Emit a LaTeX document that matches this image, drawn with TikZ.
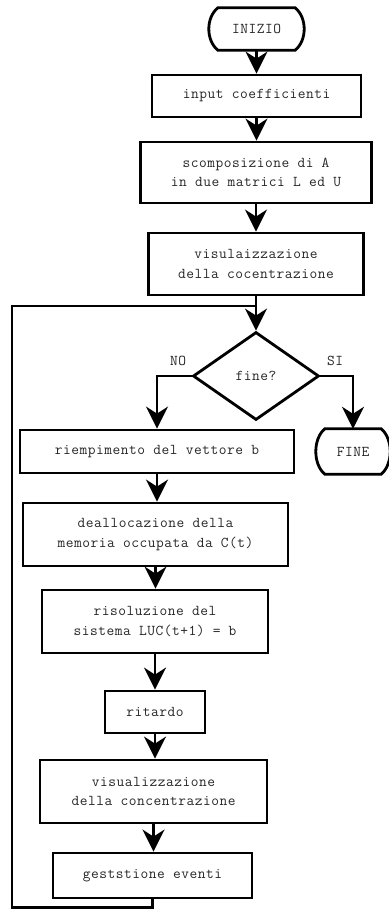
\documentclass[tikz,border=0pt]{standalone}
\usepackage{fontspec}
\newfontfamily\cour{Latin Modern Mono}[LetterSpace=3.5]
\usetikzlibrary{arrows.meta,shapes.geometric,calc}
\newcommand\drawterm[1]{%
  \draw[conn] ($(#1.north west)+(10,0)$) -- ($(#1.north east)+(-10,0)$)
    .. controls ($(#1.north east)+(2,10)$) and ($(#1.south east)+(2,-10)$) .. ($(#1.south east)+(-10,0)$)
    -- ($(#1.south west)+(10,0)$)
    .. controls ($(#1.south west)+(-2,-10)$) and ($(#1.north west)+(-2,10)$) .. cycle;}
\begin{document}
\begin{tikzpicture}[x=1pt,y=-1pt,
  every node/.style={font=\cour\fontsize{15}{19.5}\selectfont, text=black!85, inner sep=0pt},
  box/.style={draw, line width=2.8pt, align=center},
  conn/.style={line width=2.8pt, line join=miter},
  arr/.style={conn, -{Stealth[length=22pt,width=22pt,inset=7pt]}}]
\useasboundingbox (0,0) rectangle (388,909);

\node[minimum width=97pt, minimum height=42pt] (inizio) at (256.5,29) {INIZIO};
\drawterm{inizio}
\node[box, minimum width=209pt, minimum height=42pt] (input) at (256.5,96) {input coefficienti};
\node[box, minimum width=231pt, minimum height=61pt] (scomp) at (256,172.5) {scomposizione di A\\in due matrici L ed U};
\node[box, minimum width=215pt, minimum height=62pt] (visu1) at (256,264) {visulaizzazione\\della cocentrazione};
\node[draw, diamond, line width=2.8pt, minimum width=126pt, minimum height=88pt] (dec) at (256,376) {fine?};
\node (no) at (178,361) {NO};
\node (si) at (335,361) {SI};
\node[box, minimum width=274pt, minimum height=43pt] (riemp) at (157,451.5) {riempimento del vettore b};
\node[minimum width=76pt, minimum height=45pt] (fineT) at (353,451.5) {FINE};
\drawterm{fineT}
\node[box, minimum width=265pt, minimum height=63pt] (deall) at (155.5,534.5) {deallocazione della\\memoria occupata da C(t)};
\node[box, minimum width=226pt, minimum height=63pt] (risol) at (155,621.5) {risoluzione del\\sistema LUC(t+1) = b};
\node[box, minimum width=100pt, minimum height=42pt] (rit) at (155,712) {ritardo};
\node[box, minimum width=227pt, minimum height=63pt] (visu2) at (153.5,791.5) {visualizzazione\\della concentrazione};
\node[box, minimum width=199pt, minimum height=45pt] (gest) at (152.5,875.5) {geststione eventi};

\draw[arr] (inizio.south) -- (inizio.south |- input.north);
\draw[arr] (input.south) -- (input.south |- scomp.north);
\draw[arr] (scomp.south) -- (scomp.south |- visu1.north);
\draw[arr] (visu1.south) -- (dec.north);
\draw[arr] (dec.west) -| (riemp.north);
\draw[arr] (dec.east) -| (fineT.north);
\draw[arr] (riemp.south) -- (riemp.south |- deall.north);
\draw[arr] (deall.south) -- (deall.south |- risol.north);
\draw[arr] (risol.south) -- (risol.south |- rit.north);
\draw[arr] (rit.south) -- (rit.south |- visu2.north);
\draw[arr] (visu2.south) -- (visu2.south |- gest.north);

\coordinate (lb) at (152.5,907.5);
\coordinate (ll) at (12,907.5);
\coordinate (lt) at (12,306);
\coordinate (lj) at (256,306);
\draw[conn] (gest.south) -- (lb) -- (ll) -- (lt) -- (lj);
\end{tikzpicture}
\end{document}
